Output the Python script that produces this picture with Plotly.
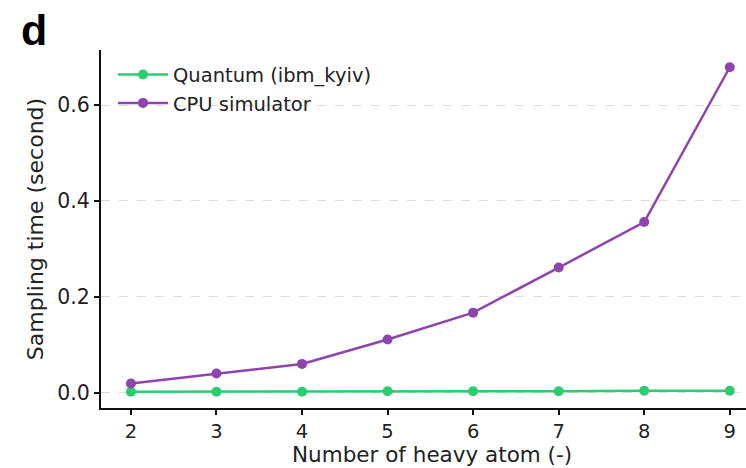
import plotly.graph_objects as go

# Sampling time versus molecule size
heavy_atoms = [2, 3, 4, 5, 6, 7, 8, 9]
quantum_time = [0.002, 0.002, 0.002, 0.003, 0.003, 0.003, 0.004, 0.004]
cpu_time = [0.019, 0.040, 0.060, 0.111, 0.167, 0.261, 0.356, 0.679]
y_ticks = [0.0, 0.2, 0.4, 0.6]
x_ticks = [2, 3, 4, 5, 6, 7, 8, 9]

GREEN = "#2ecc71"
PURPLE = "#8e44ad"
FONT = "DejaVu Sans"
TEXT = "#222222"

fig = go.Figure()
fig.add_trace(go.Scatter(
    x=heavy_atoms, y=quantum_time, mode="lines+markers",
    name="Quantum (ibm_kyiv)",
    line=dict(color=GREEN, width=2.5),
    marker=dict(color=GREEN, size=10),
))
fig.add_trace(go.Scatter(
    x=heavy_atoms, y=cpu_time, mode="lines+markers",
    name="CPU simulator",
    line=dict(color=PURPLE, width=2.5),
    marker=dict(color=PURPLE, size=10),
))

fig.update_layout(
    width=746, height=468,
    margin=dict(l=101, r=0, t=50, b=60),
    paper_bgcolor="white", plot_bgcolor="white",
    font=dict(family=FONT, size=19, color=TEXT),
    showlegend=True,
    legend=dict(
        x=0.0186, y=0.985, xanchor="left", yanchor="top",
        bgcolor="rgba(255,255,255,0)", borderwidth=0,
        font=dict(family=FONT, size=19.5, color=TEXT),
        tracegroupgap=0, itemwidth=50,
    ),
    xaxis=dict(
        range=[1.65, 9.19],
        tickvals=x_ticks, ticktext=[str(v) for v in x_ticks],
        showline=True, linecolor="#111111", linewidth=2,
        ticks="outside", ticklen=5, tickwidth=1.5, tickcolor="#111111",
        showgrid=False, zeroline=False,
        tickfont=dict(family=FONT, size=19.5, color=TEXT),
    ),
    yaxis=dict(
        range=[-0.032, 0.715],
        tickvals=y_ticks, ticktext=[f"{v:.1f}" for v in y_ticks],
        showline=True, linecolor="#111111", linewidth=2,
        ticks="outside", ticklen=5, tickwidth=1.5, tickcolor="#111111",
        showgrid=True, gridcolor="#dcdcdc", griddash="dash", gridwidth=1,
        zeroline=False,
        tickfont=dict(family=FONT, size=20.5, color=TEXT),
        title=dict(text="Sampling time (second)",
                   font=dict(family=FONT, size=22, color=TEXT), standoff=8),
    ),
    annotations=[
        # panel letter
        dict(
            text="<b>d</b>", xref="paper", yref="paper",
            x=(19 - 101) / 645, y=(408 - 4) / 358,
            xanchor="left", yanchor="top", showarrow=False,
            font=dict(family="Liberation Sans", size=43, color="black"),
        ),
        # x-axis label, centred on the full axes span
        dict(
            text="Number of heavy atom (-)", xref="paper", yref="paper",
            x=(432 - 101) / 645, y=(408 - 441) / 358,
            xanchor="center", yanchor="top", showarrow=False, borderpad=0,
            font=dict(family=FONT, size=21.5, color=TEXT),
        ),
    ],
)

fig.write_html("out.html")
